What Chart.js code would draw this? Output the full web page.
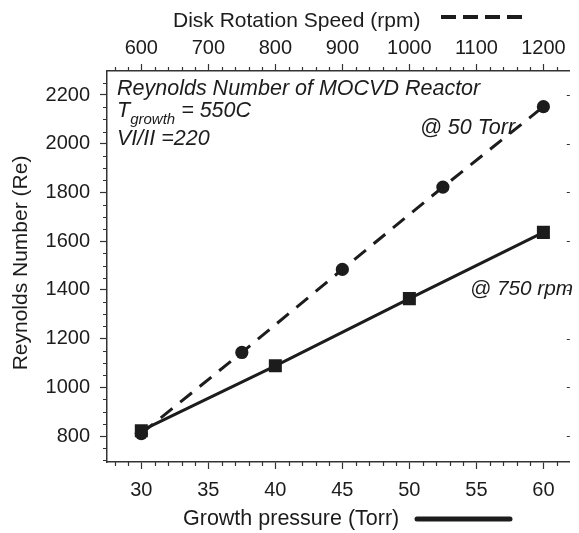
<!DOCTYPE html>
<html>
<head>
<meta charset="utf-8">
<title>Reynolds Number of MOCVD Reactor</title>
<script src="https://cdn.jsdelivr.net/npm/chart.js@4.4.1/dist/chart.umd.min.js"></script>
<style>
  html, body { margin: 0; padding: 0; background: #fff; }
  #wrap { width: 579px; height: 533px; position: relative; }
</style>
</head>
<body>
<div id="wrap"><canvas id="re-chart"></canvas></div>
<script>
(function () {
  // Re vs growth pressure at 750 rpm (bottom axis)
  const pressureTorr = [30, 40, 50, 60];
  const reAt750rpm = [822, 1088, 1364, 1636];

  // Re vs disk rotation speed at 50 Torr (top axis)
  const speedRpm = [600, 750, 900, 1050, 1200];
  const reAt50Torr = [810, 1143, 1484, 1822, 2152];

  // labelled tick values
  const pressureTicks = [30, 35, 40, 45, 50, 55, 60];
  const speedTicks = [600, 700, 800, 900, 1000, 1100, 1200];
  const reTicks = [800, 1000, 1200, 1400, 1600, 1800, 2000, 2200];

  const FONT = '"Liberation Sans", Arial, Helvetica, sans-serif';
  const INK = '#1c1c1c';
  const AXIS = '#333';

  const setTicks = values => scale => {
    scale.ticks = values.map(v => ({ value: v }));
  };
  const plain = v => String(v);

  // ===== HAND-DRAWN EXTRAS: minor ticks, axis titles, labels =====
  const extras = {
    id: 'extras',
    beforeDatasetsDraw(chart) {
      const ctx = chart.ctx;
      ctx.save();
      ctx.fillStyle = INK;
      ctx.textBaseline = 'alphabetic';
      ctx.textAlign = 'left';

      ctx.font = `italic 21.5px ${FONT}`;
      ctx.fillText('Reynolds Number of MOCVD Reactor', 117, 95);
      ctx.fillText('T', 117, 117);
      let w = ctx.measureText('T').width;
      ctx.font = `italic 15px ${FONT}`;
      ctx.fillText('growth', 117 + w, 124);
      w += ctx.measureText('growth').width;
      ctx.font = `italic 21.5px ${FONT}`;
      ctx.fillText(' = 550C', 117 + w, 117);
      ctx.fillText('VI/II =220', 117, 145);
      ctx.fillText('@ 50 Torr', 420, 134);
      ctx.font = `italic 20.8px ${FONT}`;
      ctx.fillText('@ 750 rpm', 470, 295);
      ctx.restore();
    },
    afterDraw(chart) {
      const ctx = chart.ctx;
      const { x, x2, y } = chart.scales;
      const area = chart.chartArea;
      ctx.save();
      ctx.strokeStyle = AXIS;
      ctx.lineWidth = 1.2;
      ctx.beginPath();
      // bottom minor ticks, every 1 Torr
      for (let v = Math.ceil(x.min); v <= x.max; v++) {
        if (v % 5 === 0) continue;
        const px = Math.round(x.getPixelForValue(v)) + 0.5;
        ctx.moveTo(px, area.bottom);
        ctx.lineTo(px, area.bottom + 4);
      }
      // top minor ticks, every 20 rpm
      for (let v = Math.ceil(x2.min / 20) * 20; v <= x2.max; v += 20) {
        if (v % 100 === 0) continue;
        const px = Math.round(x2.getPixelForValue(v)) + 0.5;
        ctx.moveTo(px, area.top);
        ctx.lineTo(px, area.top - 4);
      }
      // left minor ticks, every 50
      for (let v = Math.ceil(y.min / 50) * 50; v <= y.max; v += 50) {
        if (v % 200 === 0) continue;
        const py = Math.round(y.getPixelForValue(v)) + 0.5;
        ctx.moveTo(area.left, py);
        ctx.lineTo(area.left - 4, py);
      }
      // right side: short inward marks at the labelled values
      reTicks.forEach(v => {
        const py = Math.round(y.getPixelForValue(v)) + 0.5;
        ctx.moveTo(area.right, py);
        ctx.lineTo(area.right - 3, py);
      });
      ctx.stroke();

      // axis titles with their line keys
      ctx.fillStyle = INK;
      ctx.font = `21px ${FONT}`;
      ctx.textBaseline = 'alphabetic';
      ctx.textAlign = 'left';
      ctx.fillText('Disk Rotation Speed (rpm)', 173, 27);
      ctx.font = `21.5px ${FONT}`;
      ctx.fillText('Growth pressure (Torr)', 183, 525);

      ctx.strokeStyle = INK;
      ctx.lineCap = 'butt';
      ctx.lineWidth = 4;
      ctx.setLineDash([15, 7]);
      ctx.beginPath();
      ctx.moveTo(441, 17);
      ctx.lineTo(527, 17);
      ctx.stroke();

      ctx.setLineDash([]);
      ctx.lineCap = 'round';
      ctx.lineWidth = 5;
      ctx.beginPath();
      ctx.moveTo(417, 519);
      ctx.lineTo(510, 519);
      ctx.stroke();

      ctx.font = `21px ${FONT}`;
      ctx.translate(21, 263);
      ctx.rotate(-Math.PI / 2);
      ctx.textAlign = 'center';
      ctx.textBaseline = 'middle';
      ctx.fillText('Reynolds Number (Re)', 0, 0);
      ctx.restore();
    },
  };

  const tickFont = { family: FONT, size: 20 };
  const majorGrid = {
    display: true,
    drawOnChartArea: false,
    drawTicks: true,
    tickLength: 7,
    tickWidth: 1.2,
    tickColor: AXIS,
  };
  const border = { display: true, color: AXIS, width: 1.5 };

  new Chart(document.getElementById('re-chart'), {
    type: 'scatter',
    data: {
      datasets: [
        {
          label: '@ 750 rpm',
          xAxisID: 'x',
          data: pressureTorr.map((p, i) => ({ x: p, y: reAt750rpm[i] })),
          showLine: true,
          borderColor: INK,
          borderWidth: 3,
          backgroundColor: INK,
          pointStyle: 'rect',
          pointRadius: 9.2,
          pointBorderWidth: 0,
          order: 0,
        },
        {
          label: '@ 50 Torr',
          xAxisID: 'x2',
          data: speedRpm.map((s, i) => ({ x: s, y: reAt50Torr[i] })),
          showLine: true,
          borderColor: INK,
          borderWidth: 3,
          borderDash: [15, 10],
          backgroundColor: INK,
          pointStyle: 'circle',
          pointRadius: 6.6,
          pointBorderWidth: 0,
          order: 1,
        },
      ],
    },
    options: {
      responsive: true,
      maintainAspectRatio: false,
      animation: false,
      layout: { padding: 0 },
      plugins: { legend: { display: false }, tooltip: { enabled: false } },
      scales: {
        x: {
          type: 'linear',
          position: 'bottom',
          min: 27.44,
          max: 61.97,
          grid: majorGrid,
          border,
          ticks: { font: tickFont, color: INK, padding: 9, maxRotation: 0, autoSkip: false, callback: plain },
          afterBuildTicks: setTicks(pressureTicks),
          afterFit: s => { s.height = 71; },
        },
        x2: {
          type: 'linear',
          position: 'top',
          min: 548.8,
          max: 1239.4,
          grid: majorGrid,
          border,
          ticks: { font: tickFont, color: INK, padding: 4, maxRotation: 0, autoSkip: false, callback: plain },
          afterBuildTicks: setTicks(speedTicks),
          afterFit: s => { s.height = 71; },
        },
        y: {
          type: 'linear',
          position: 'left',
          min: 693.3,
          max: 2298.5,
          grid: majorGrid,
          border,
          ticks: { font: tickFont, color: INK, padding: 10, autoSkip: false, callback: plain },
          afterBuildTicks: setTicks(reTicks),
          afterFit: s => { s.width = 107; },
        },
      },
    },
    plugins: [extras],
  });
})();
</script>
</body>
</html>
